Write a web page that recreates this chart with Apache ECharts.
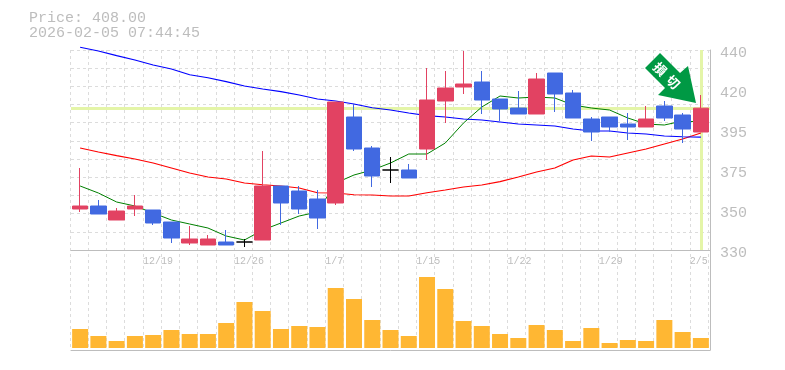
<!DOCTYPE html>
<html><head><meta charset="utf-8">
<style>html,body{margin:0;padding:0;background:#fff}#c{width:785px;height:370px}</style>
<script src="https://cdn.jsdelivr.net/npm/echarts@6/dist/echarts.min.js"></script>
</head><body><div id="c"></div>
<script>
const dates=['12/15','12/16','12/17','12/18','12/19','12/22','12/23','12/24','12/25','12/26','12/29','12/30','1/5','1/6','1/7','1/8','1/9','1/13','1/14','1/15','1/16','1/19','1/20','1/21','1/22','1/23','1/26','1/27','1/28','1/29','1/30','2/2','2/3','2/4','2/5'];
const opens=[352.55,354.2,346.5,352.55,352,345.4,333.85,332.75,334.4,334.4,335.5,365.2,362.45,358.05,355.85,403.15,386.1,374,374,385.55,411.95,419.65,422.4,413.05,408.1,404.8,427.35,416.35,402.05,403.15,399.3,397.65,409.2,404.25,394.9];
const closes=[354.2,349.8,351.45,354.2,344.85,336.6,336.05,336.05,332.75,334.4,365.2,355.85,352.55,347.6,411.4,385.55,370.7,374,369.6,412.5,419.1,421.3,412.5,407.55,404.8,424.05,415.8,402.6,394.9,397.65,397.65,402.05,402.6,396.55,408];
const lows=[350.9,349.8,346.5,348.7,343.75,333.85,332.75,332.75,332.75,331.65,335.5,343.75,349.8,341.55,354.75,384.45,364.65,366.85,369.6,379.5,399.85,415.8,404.8,400.95,404.8,404.8,405.9,402.6,389.95,394.9,390.5,397.65,400.95,388.85,394.9];
const highs=[375.1,357.5,353.1,360.25,352,345.4,343.2,338.25,341,336.05,384.45,365.2,365.2,363,411.4,410.3,387.2,381.15,377.3,430.1,428.45,439.45,428.45,413.05,417.45,427.35,427.35,418,403.15,403.15,405.35,409.2,411.95,405.35,415.25];
const maShort=[365.2,361.35,356.4,354.2,350.35,346.5,344.3,342.1,337.7,335.5,341,344.85,348.7,350.9,366.85,371.25,374,377.85,382.8,382.8,388.85,399.85,408.65,414.7,413.6,414.15,413.6,409.75,408.1,407,402.6,399.3,398.75,400.95,400.4];
const maMid=[386.1,383.9,381.9,380.05,377.85,375.1,372.35,370.15,369.05,366.85,365.9,365.2,364.1,361.5,361.35,360.4,360.25,359.7,359.7,361.5,363,364.65,365.75,367.6,370.15,372.9,375.1,379.5,381.7,381.15,383.35,385.55,388.3,391.05,394.35];
const maLong=[441.5,439.45,436.9,434.5,431.75,429.55,426.4,424.75,422.6,420.2,418.55,417.1,415.25,413.05,411.95,410.3,408.25,407,405.35,403.9,403.15,402.05,401.5,400.4,399.3,398.75,398.2,396.55,395.45,395.45,394.35,393.8,392.7,392.3,392.05];
const volumes=[19,12,7,12,13,18,14,14,25,46,37,19,22,21,60,49,28,18,12,71,59,27,22,14,10,23,18,7,20,5,8,7,28,16,10];
const priceTicks=[330,352,374,396,418,440];
const priceLabels=['330','350','375','395','420','440'];
const dateLabelIdx=[4,9,14,19,24,29,34];
const lastPrice=408;
const GRAY='#bdbdbd',GRID='#dcdcdc',MONO='"Liberation Mono",monospace';
const chart=echarts.init(document.getElementById('c'),null,{renderer:'canvas'});
const hidden={show:false};
const upC='#e24262',dnC='#4169e1';
chart.setOption({
 animation:false,backgroundColor:'#fff',
 title:{text:'Price: 408.00\n2026-02-05 07:44:45',left:24,top:6,textStyle:{fontFamily:MONO,fontSize:15,lineHeight:15,fontWeight:'normal',color:GRAY}},
 grid:[
  {left:70,top:50,width:638,height:300},
  {left:71,top:50,width:639,height:200},
  {left:71,top:250,width:639,height:100}
 ],
 xAxis:[
  {gridIndex:0,type:'category',data:dates.concat(''),boundaryGap:false,offset:-100,axisLine:hidden,axisTick:hidden,
   axisLabel:{show:true,interval:(i)=>dateLabelIdx.includes(i),align:'left',color:GRAY,fontFamily:MONO,fontSize:10,margin:6},
   splitLine:{show:true,interval:0,lineStyle:{color:GRID,type:[3,3],width:1}}},
  {gridIndex:1,type:'category',data:dates,boundaryGap:true,axisLine:{show:true,onZero:false,lineStyle:{color:GRAY,width:1}},axisTick:hidden,axisLabel:hidden,splitLine:hidden},
  {gridIndex:2,type:'category',data:dates,boundaryGap:true,axisLine:{show:true,onZero:false,lineStyle:{color:GRAY,width:1}},axisTick:hidden,axisLabel:hidden,splitLine:hidden}
 ],
 yAxis:[
  {gridIndex:0,type:'value',min:0,max:1,axisLine:hidden,axisTick:hidden,axisLabel:hidden,splitLine:hidden},
  {gridIndex:1,type:'value',position:'left',min:330,max:440,interval:10,axisLine:hidden,axisTick:hidden,axisLabel:hidden,
   splitLine:{show:true,lineStyle:{color:GRID,type:[3,3],width:1}}},
  {gridIndex:1,type:'value',position:'right',min:330,max:440,interval:22,axisLine:{show:true,lineStyle:{color:GRAY,width:1}},axisTick:hidden,splitLine:hidden,
   axisLabel:{show:true,margin:10,color:GRAY,fontFamily:MONO,fontSize:15,verticalAlign:'top',lineHeight:6,formatter:(v)=>priceLabels[priceTicks.indexOf(v)]}},
  {gridIndex:2,type:'value',position:'right',min:-2,max:98,axisLine:{show:true,lineStyle:{color:GRAY,width:1}},axisTick:hidden,axisLabel:hidden,splitLine:hidden}
 ],
 series:[
  {type:'line',xAxisIndex:1,yAxisIndex:1,data:[],z:1,silent:true,symbol:'none',
   markLine:{z:1,silent:true,symbol:'none',animation:false,label:{show:false},lineStyle:{color:'#e4f5a8',width:3,type:'solid'},
    data:[{yAxis:lastPrice},[{coord:[dates[34],330]},{coord:[dates[34],440]}]]}},
  {type:'line',name:'short',xAxisIndex:1,yAxisIndex:1,data:maShort,z:2,clip:false,symbol:'none',lineStyle:{color:'#008000',width:1}},
  {type:'line',name:'mid',xAxisIndex:1,yAxisIndex:1,data:maMid,z:2,clip:false,symbol:'none',lineStyle:{color:'#ff0000',width:1.2}},
  {type:'line',name:'long',xAxisIndex:1,yAxisIndex:1,data:maLong,z:2,clip:false,symbol:'none',lineStyle:{color:'#0000ff',width:1.2}},
  {type:'candlestick',xAxisIndex:1,yAxisIndex:1,z:3,barWidth:16,clip:false,
   data:dates.map((d,i)=>[opens[i],closes[i],lows[i],highs[i]]),
   itemStyle:{color:upC,color0:dnC,borderColor:upC,borderColor0:dnC,borderColorDoji:'#000',borderWidth:1}},
  {type:'bar',xAxisIndex:2,yAxisIndex:3,data:volumes,barWidth:16,itemStyle:{color:'#ffb733'},z:2}
 ],
 graphic:[
  {type:'polygon',z:20,shape:{points:[[660,53],[645,68],[665,88],[658,95],[696,103],[688,66],[680,73]]},style:{fill:'#009944'}},
  {type:'text',z:21,x:660,y:69,rotation:-Math.PI/4,style:{text:'損',fill:'#fff',fontFamily:'"Noto Sans CJK JP"',fontSize:13,fontWeight:'bold',align:'center',verticalAlign:'middle'}},
  {type:'text',z:21,x:673,y:82,rotation:-Math.PI/4,style:{text:'切',fill:'#fff',fontFamily:'"Noto Sans CJK JP"',fontSize:13,fontWeight:'bold',align:'center',verticalAlign:'middle'}}
 ]
});
</script></body></html>
